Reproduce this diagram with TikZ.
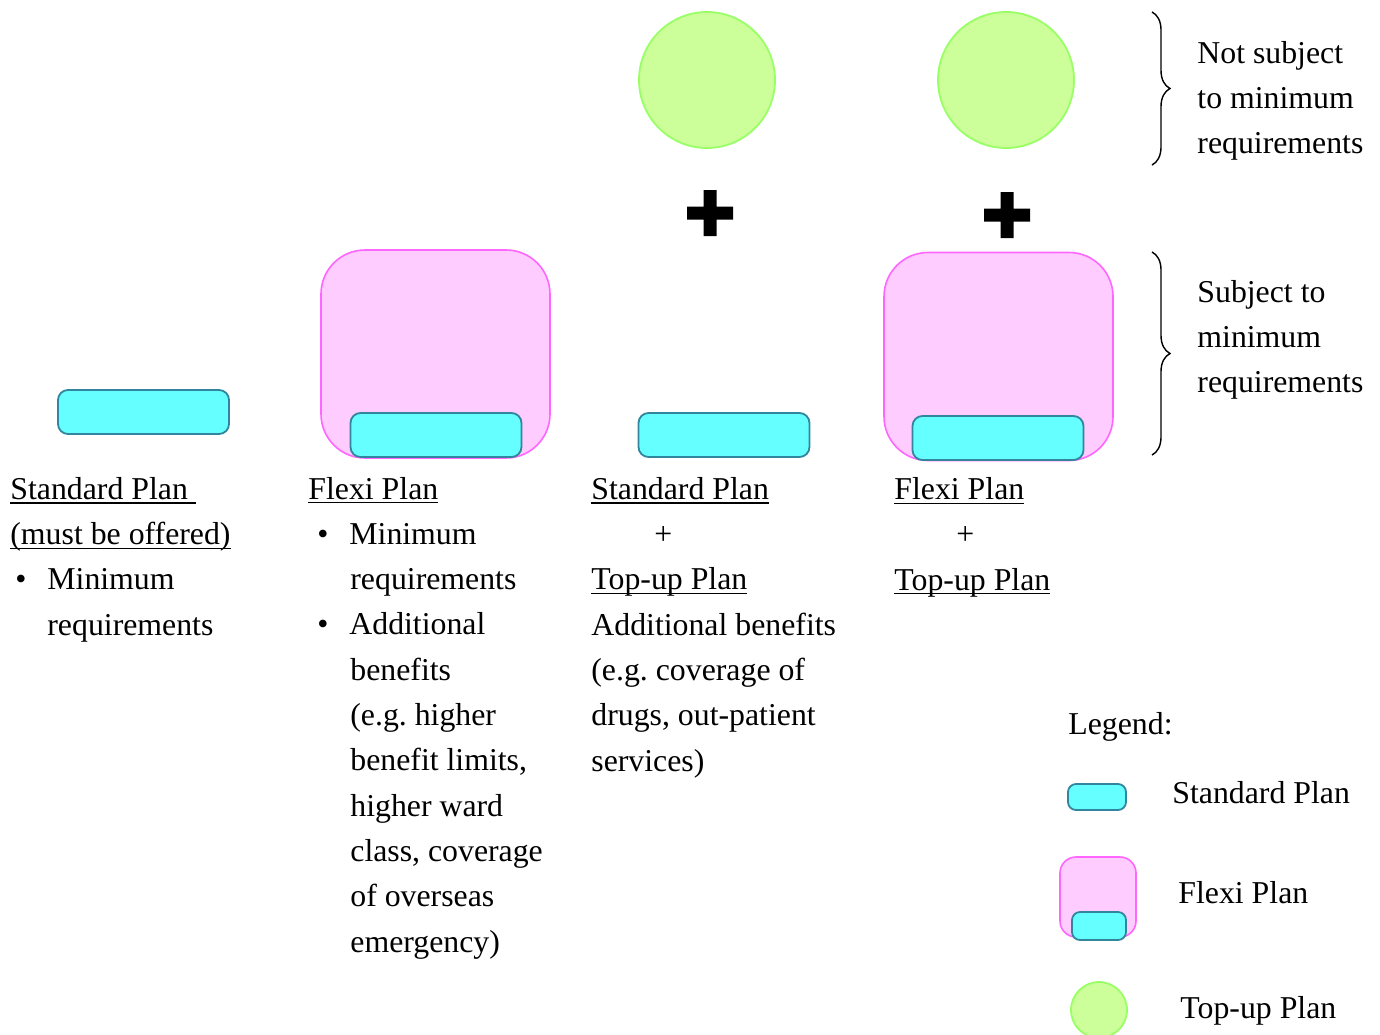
\documentclass[tikz,border=0pt]{standalone}
\usepackage{fontspec}
\setmainfont{Liberation Serif}
\usepackage{xcolor}
\definecolor{stdFill}{HTML}{66FFFF}
\definecolor{stdLine}{HTML}{31859C}
\definecolor{flxFill}{HTML}{FFCCFF}
\definecolor{flxLine}{HTML}{FF66FF}
\definecolor{topFill}{HTML}{CCFF99}
\definecolor{topLine}{HTML}{99FF66}
\usetikzlibrary{decorations.pathreplacing}
\newcommand{\uln}[1]{\setbox0\hbox{#1}\rlap{\rule[-2.2pt]{\wd0}{0.65pt}}\box0}
\newcommand{\blt}[1]{\hspace*{#1}\makebox[16pt][l]{\textbullet}}
\frenchspacing

\begin{document}
\begin{tikzpicture}[x=0.5pt,y=-0.5pt,
      every node/.style={font=\fontsize{15.9}{22.65}\selectfont,inner sep=0pt},
      stdplan/.style={rectangle,rounded corners=5pt,draw=stdLine,fill=stdFill,
                      line width=0.9pt,minimum width=85.5pt,minimum height=22pt},
      flexiplan/.style={rectangle,rounded corners=22pt,draw=flxLine,fill=flxFill,
                      line width=0.8pt,minimum width=114.5pt,minimum height=104pt},
      topup/.style={circle,draw=topLine,fill=topFill,line width=0.9pt,
                      minimum size=68pt},
      col/.style={anchor=base west,align=left},
      brc/.style={decorate,decoration={brace,amplitude=9pt},line width=0.7pt,black},
      plusbar/.style={fill=black},
    ]
    \useasboundingbox (0,0) rectangle (1380,1034);

    % --- Plan shapes ---
    \node[stdplan] (std) at (143.5,412) {};
    \node[flexiplan] (flexi) at (435.5,354) {};
    \node[stdplan] (flexiStd) at (436,435) {};
    \node[stdplan] (stdTop) at (724,435) {};
    \node[topup] (topA) at (707,80) {};
    \node[flexiplan] (flexiTop) at (998.5,356.5) {};
    \node[stdplan] (flexiTopStd) at (998,438) {};
    \node[topup] (topB) at (1006,80) {};

    % --- Heavy plus signs ---
    \coordinate (plusA) at (710,213);
    \coordinate (plusB) at (1007,215);
    \foreach \p in {plusA,plusB}
      \fill[plusbar] (\p) ++(-23,-6.5) rectangle ++(46,13)
                     (\p) ++(-6.5,-23) rectangle ++(13,46);

    % --- Column texts (placed at the baseline of their last line) ---
    \node[col] (txtStd) at (10,635) {%
      \uln{Standard Plan\ }\\
      \uln{(must be offered)}\\
      \blt{2.5pt}Minimum\\
      \hspace*{18.5pt}requirements%
    };
    \node[col] (txtFlexi) at (308,952) {%
      \uln{Flexi Plan}\\
      \blt{4.5pt}Minimum\\
      \hspace*{21pt}requirements\\
      \blt{4.5pt}Additional\\
      \hspace*{21pt}benefits\\
      \hspace*{21pt}(e.g. higher\\
      \hspace*{21pt}benefit limits,\\
      \hspace*{21pt}higher ward\\
      \hspace*{21pt}class, coverage\\
      \hspace*{21pt}of overseas\\
      \hspace*{21pt}emergency)%
    };
    \node[col] (txtStdTop) at (591,771) {%
      \uln{Standard Plan}\\
      \hspace*{31.5pt}+\\
      \uln{Top-up Plan}\\
      Additional benefits\\
      (e.g. coverage of\\
      drugs, out-patient\\
      services)%
    };
    \node[col] (txtFlexiTop) at (894,590) {%
      \uln{Flexi Plan}\\
      \hspace*{31pt}+\\
      \uln{Top-up Plan}%
    };

    % --- Braces ---
    \coordinate (brAtop) at (1152,12);
    \coordinate (brAbot) at (1152,165);
    \coordinate (brBtop) at (1152,252);
    \coordinate (brBbot) at (1152,455);
    \draw[brc] (brAtop) -- (brAbot);
    \draw[brc] (brBtop) -- (brBbot);
    \node[col] (notSubj) at (1197,153.6) {Not subject\\to minimum\\requirements};
    \node[col] (subj) at (1197,392.6) {Subject to\\minimum\\requirements};

    % --- Legend ---
    \node[col] (legend) at (1068,734) {Legend:};
    \node[stdplan,minimum width=29pt,minimum height=13pt,rounded corners=4pt]
      (lgStd) at (1097,797) {};
    \node[flexiplan,minimum width=38pt,minimum height=40pt,rounded corners=8pt]
      (lgFlexi) at (1098,897) {};
    \node[stdplan,minimum width=27pt,minimum height=14pt,rounded corners=4pt]
      (lgFlexiStd) at (1099,926) {};
    \node[topup,minimum size=28pt] (lgTop) at (1099,1010) {};
    \node[col] (lgStdTxt) at (1172,803) {Standard Plan};
    \node[col] (lgFlexiTxt) at (1178,903) {Flexi Plan};
    \node[col] (lgTopTxt) at (1180,1018) {Top-up Plan};

  \end{tikzpicture}
\end{document}
